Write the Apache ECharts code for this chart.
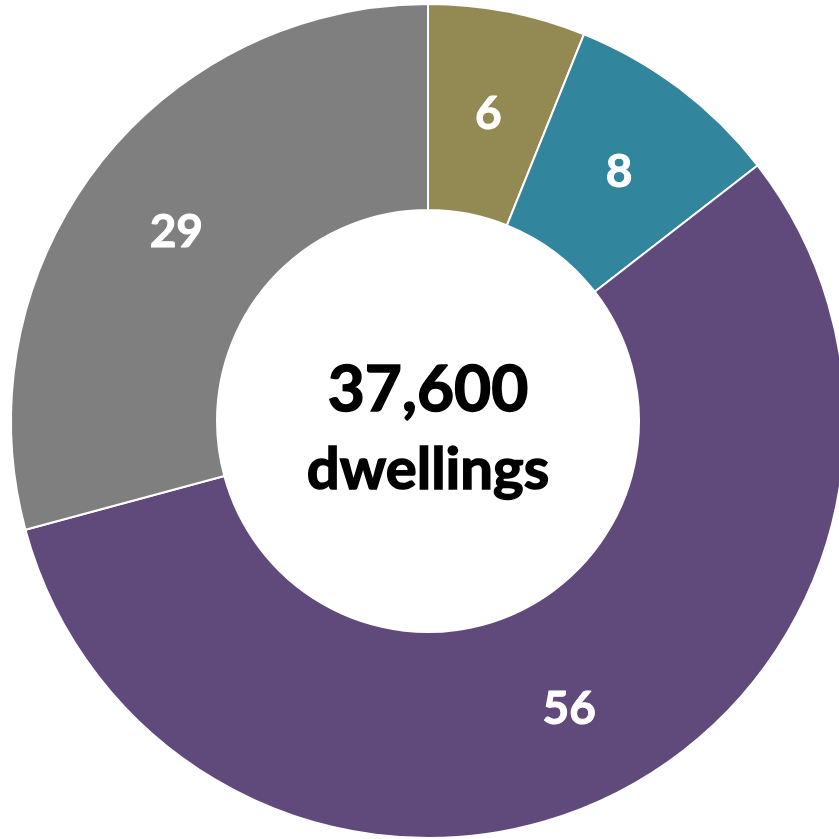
<!DOCTYPE html>
<html>
<head>
<meta charset="utf-8">
<script src="https://cdn.jsdelivr.net/npm/echarts@6/dist/echarts.min.js"></script>
<style>
    html, body { margin: 0; padding: 0; background: #fff; }
    #chart { width: 839px; height: 839px; }
</style>
</head>
<body>
<div id="chart"></div>
<script>
    // segment shares (%), clockwise from 12 o'clock; labels show them rounded
    let categories = ['Segment 1', 'Segment 2', 'Segment 3', 'Segment 4'];
    let values = [6.1, 8.4, 56.3, 29.2];
    let colors = ['#938953', '#31859C', '#604A7B', '#7F7F7F'];
    let totalText = '37,600';
    let unitText = 'dwellings';

    let myChart = echarts.init(document.getElementById('chart'));

    let pieData = categories.map((name, i) => {
        return { name: name, value: values[i], itemStyle: { color: colors[i] } };
    });

    let font = 'Lato, "Open Sans", sans-serif';

    let option = {
        animation: false,
        graphic: [{
            type: 'text',
            x: 428,
            y: 390,
            style: {
                text: totalText,
                font: 'bold 64px ' + font,
                fill: '#000',
                stroke: '#000',
                lineWidth: 1.5,
                textAlign: 'center',
                textVerticalAlign: 'middle'
            }
        }, {
            type: 'text',
            x: 428,
            y: 470,
            style: {
                text: unitText,
                font: 'bold 58px ' + font,
                fill: '#000',
                stroke: '#000',
                lineWidth: 1.5,
                textAlign: 'center',
                textVerticalAlign: 'middle'
            }
        }],
        series: [{
            type: 'pie',
            center: [428, 421],
            radius: [211, 417],
            startAngle: 90,
            clockwise: true,
            data: pieData,
            itemStyle: {
                borderColor: '#fff',
                borderWidth: 2
            },
            label: {
                show: true,
                position: 'inside',
                formatter: (p) => Math.round(p.value),
                color: '#fff',
                textBorderColor: '#fff',
                textBorderWidth: 1,
                fontSize: 46,
                fontWeight: 'bold',
                fontFamily: font,
                offset: [0, 4]
            },
            labelLine: { show: false },
            emphasis: { disabled: true }
        }]
    };
    myChart.setOption(option);
</script>
</body>
</html>
